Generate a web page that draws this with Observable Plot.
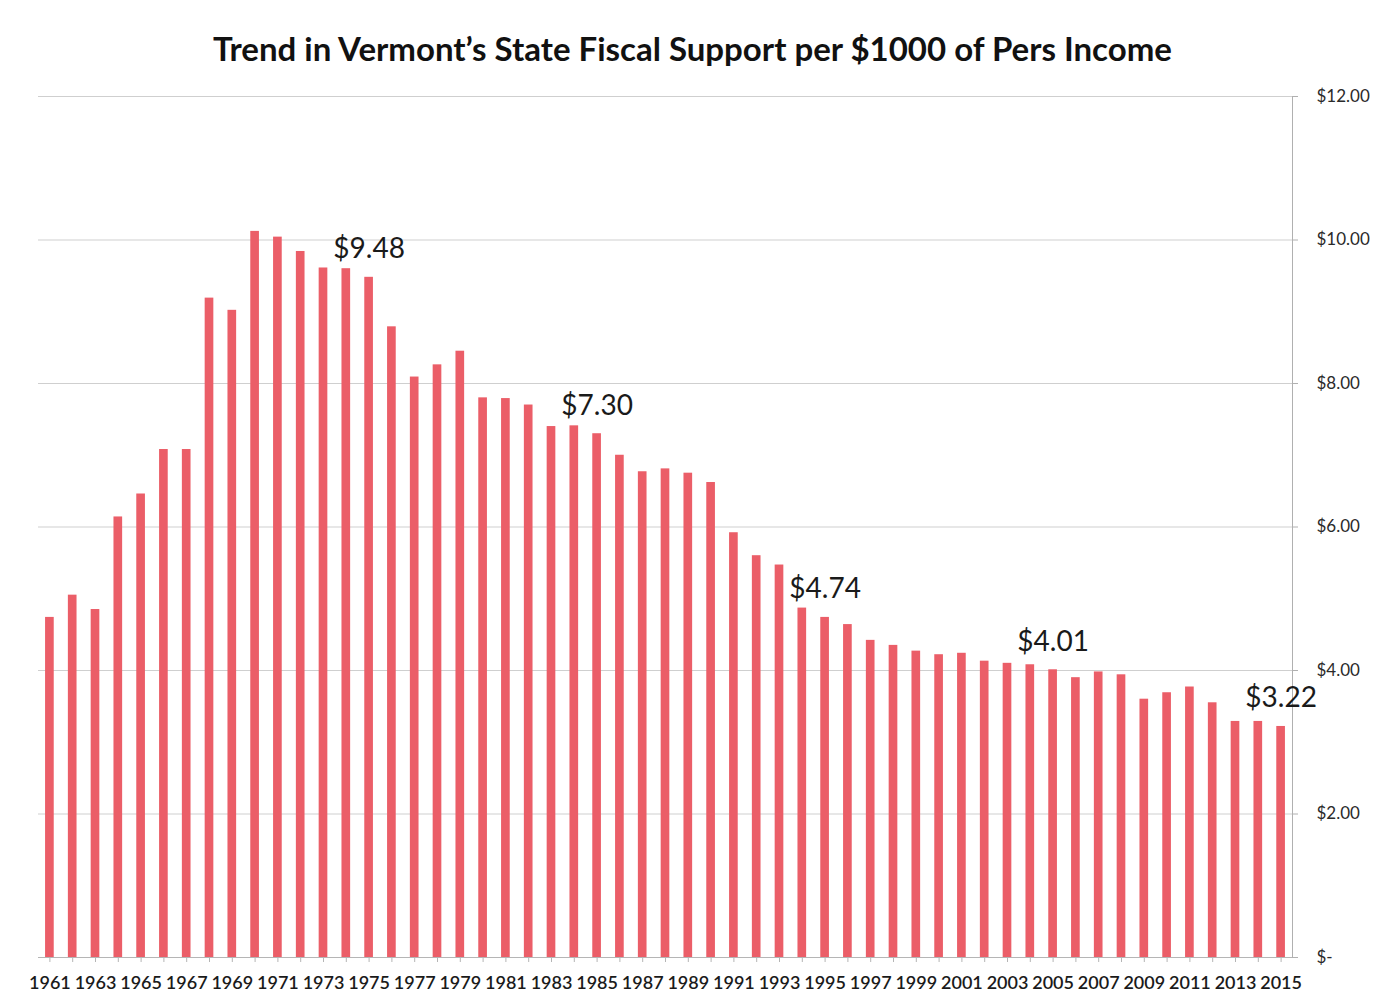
<!DOCTYPE html>
<html>
<head>
<meta charset="utf-8">
<script src="https://cdn.jsdelivr.net/npm/d3@7"></script>
<script src="https://cdn.jsdelivr.net/npm/@observablehq/plot@0.6"></script>
<style>
  html, body { margin: 0; padding: 0; background: #fff; }
  #wrap { position: relative; width: 1385px; height: 1002px; overflow: hidden; background: #fff; }
  #title { position: absolute; left: 0; top: 0; width: 1385px; height: 80px; text-align: center;
           font-family: Lato, "Open Sans", sans-serif; font-weight: 700; font-size: 33px; line-height: 96px; color: #111; }
  #chart { position: absolute; left: 0; top: 80px; }
</style>
</head>
<body>
<div id="wrap">
  <div id="title">Trend in Vermont’s State Fiscal Support per $1000 of Pers Income</div>
  <div id="chart"></div>
</div>
<script>
const years = [1961,1962,1963,1964,1965,1966,1967,1968,1969,1970,
  1971,1972,1973,1974,1975,1976,1977,1978,1979,1980,
  1981,1982,1983,1984,1985,1986,1987,1988,1989,1990,
  1991,1992,1993,1994,1995,1996,1997,1998,1999,2000,
  2001,2002,2003,2004,2005,2006,2007,2008,2009,2010,
  2011,2012,2013,2014,2015];
const values = [4.74,5.05,4.85,6.14,6.46,7.08,7.08,9.19,9.02,10.12,
  10.04,9.84,9.61,9.60,9.48,8.79,8.09,8.26,8.45,7.80,
  7.79,7.70,7.40,7.41,7.30,7.00,6.77,6.81,6.75,6.62,
  5.92,5.60,5.47,4.87,4.74,4.64,4.42,4.35,4.27,4.22,
  4.24,4.13,4.10,4.08,4.01,3.90,3.98,3.94,3.60,3.69,
  3.77,3.55,3.29,3.29,3.22];
const labeledYears = [1975,1985,1995,2005,2015];
const xTickYears = [1961,1963,1965,1967,1969,1971,1973,1975,1977,1979,1981,1983,1985,1987,1989,
  1991,1993,1995,1997,1999,2001,2003,2005,2007,2009,2011,2013,2015];
const yTicks = [0,2,4,6,8,10,12];

const data = years.map((year, i) => ({year, value: values[i]}));
const labelData = data.filter(d => labeledYears.includes(d.year));

const chart = Plot.plot({
  width: 1385,
  height: 922,
  marginTop: 16,
  marginBottom: 45,
  marginLeft: 38,
  marginRight: 93,
  style: {fontFamily: "Lato, 'Open Sans', sans-serif", background: "#fff", color: "#222"},
  x: {type: "band", domain: years, paddingInner: 0.62, paddingOuter: 0.31, label: null},
  y: {domain: [0, 12], label: null},
  marks: [
    Plot.ruleY(yTicks.filter(d => d > 0), {stroke: "#cfcfcf", strokeWidth: 1}),
    Plot.barY(data, {x: "year", y: "value", fill: "#EB5E68"}),
    Plot.ruleY([0], {stroke: "#b5b5b5"}),
    Plot.frame({anchor: "right", stroke: "#b0b0b0"}),
    Plot.axisY({anchor: "right", ticks: yTicks, tickSize: 5, tickPadding: 19, fontSize: 17, stroke: "#b0b0b0",
      tickFormat: d => d === 0 ? "$-" : "$" + d.toFixed(2), fill: "#2a2a2a"}),
    Plot.axisX({ticks: years, tickSize: 5, tickFormat: () => "", stroke: "#b5b5b5"}),
    Plot.axisX({ticks: xTickYears, tickSize: 0, tickPadding: 19, fontSize: 18, fontWeight: 600, fill: "#1a1a1a",
      tickFormat: d => String(d)}),
    Plot.text(labelData, {x: "year", y: "value", text: d => "$" + d.value.toFixed(2),
      dy: -28, fontSize: 28, lineAnchor: "middle", fill: "#1a1a1a"})
  ]
});
document.getElementById("chart").appendChild(chart);
</script>
</body>
</html>
